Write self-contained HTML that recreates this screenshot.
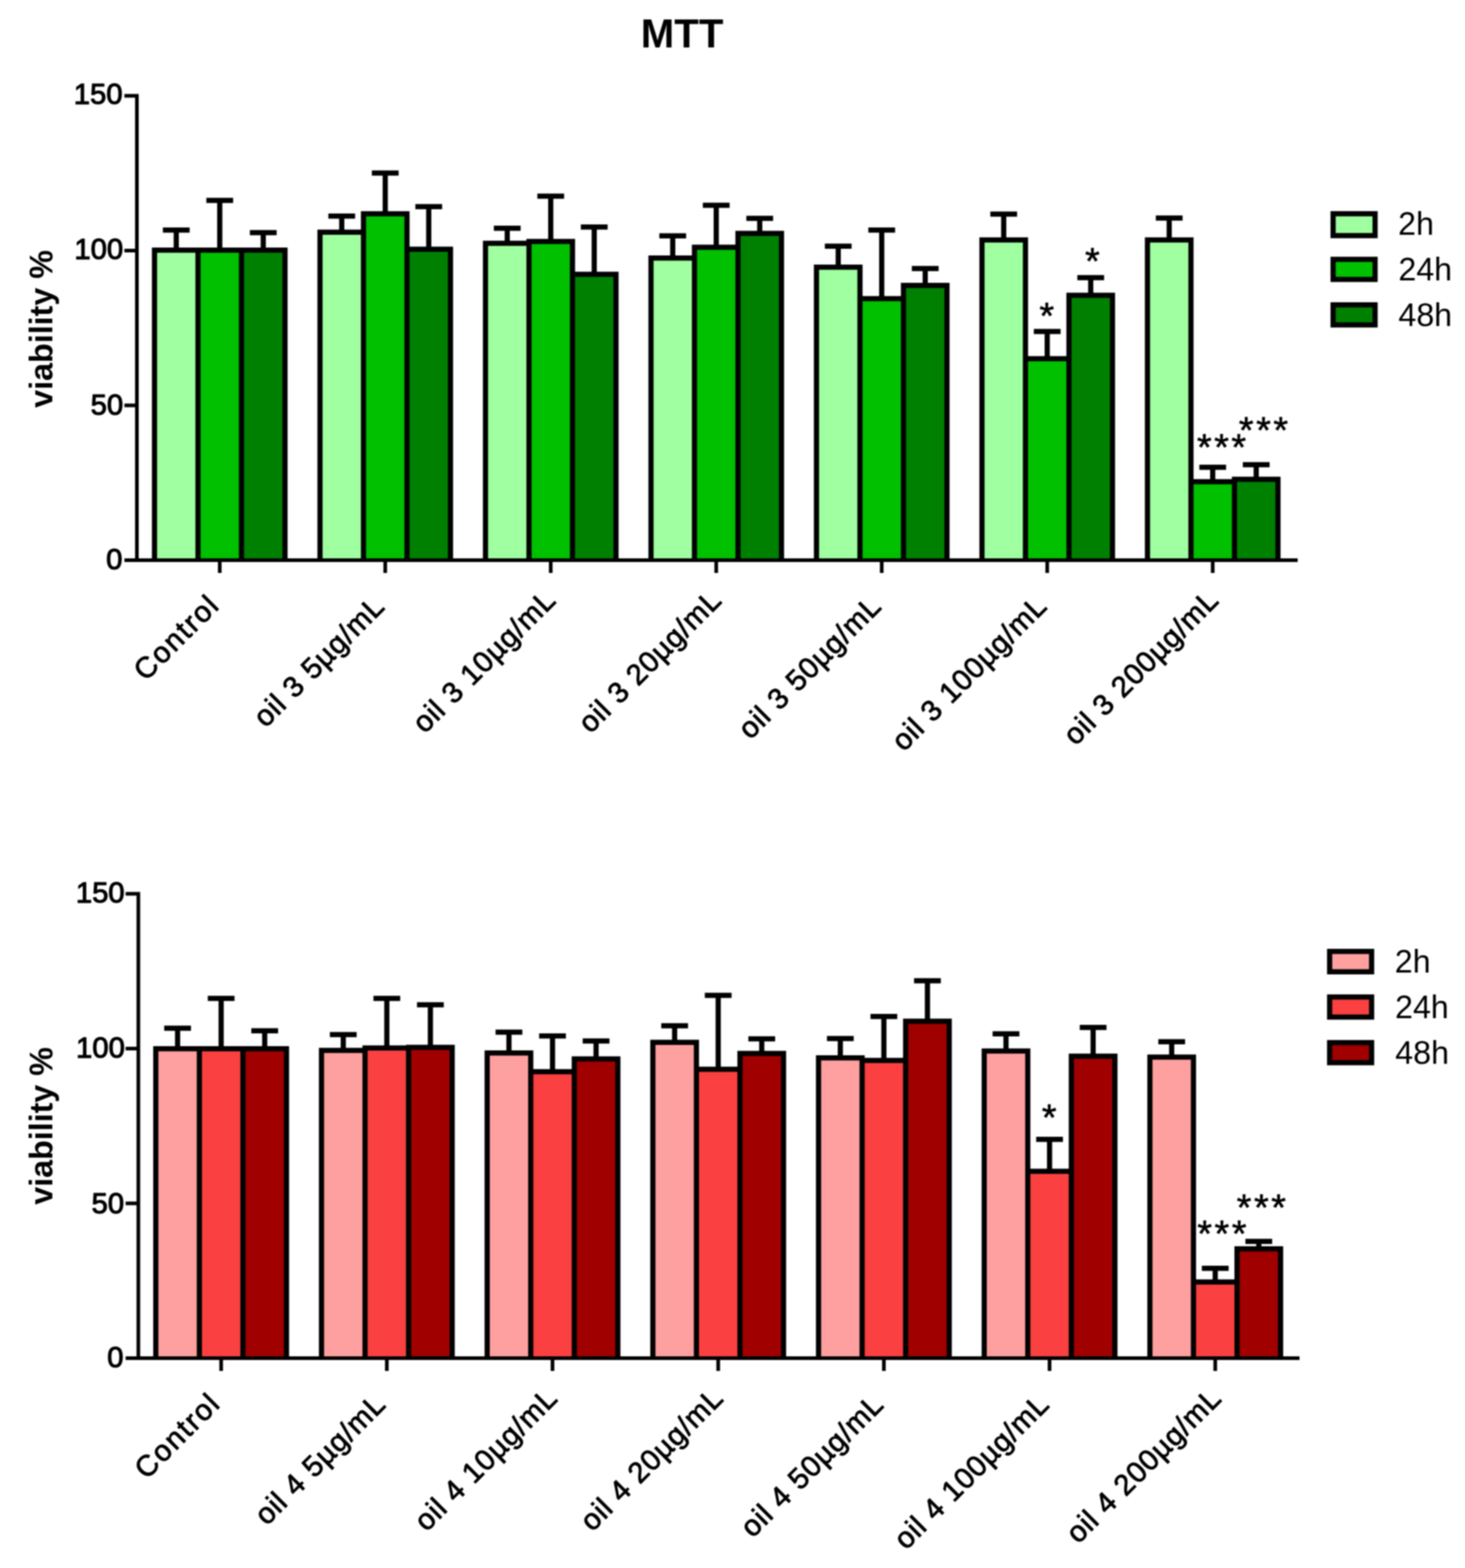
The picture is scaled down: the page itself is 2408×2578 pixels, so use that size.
<!DOCTYPE html>
<html><head><meta charset="utf-8"><title>MTT</title>
<style>html,body{margin:0;padding:0;background:#fff;}body{width:2408px;height:2578px;overflow:hidden;}svg{display:block;filter:blur(0.8px);}</style>
</head><body>
<svg width="2408" height="2578" viewBox="0 0 2408 2578" font-family="'Liberation Sans', Arial, sans-serif" fill="#000">
<rect width="2408" height="2578" fill="#fff"/>
<rect x="253.95" y="411.2" width="71.5" height="509.8" fill="#A0FFA0"/>
<rect x="325.45" y="411.2" width="71.5" height="509.8" fill="#00C000"/>
<rect x="396.95" y="411.2" width="71.5" height="509.8" fill="#008000"/>
<rect x="525.97" y="381.8" width="71.5" height="539.2" fill="#A0FFA0"/>
<rect x="597.47" y="351.6" width="71.5" height="569.4" fill="#00C000"/>
<rect x="668.97" y="409.8" width="71.5" height="511.2" fill="#008000"/>
<rect x="797.99" y="399.9" width="71.5" height="521.1" fill="#A0FFA0"/>
<rect x="869.49" y="397.1" width="71.5" height="523.9" fill="#00C000"/>
<rect x="940.99" y="450.9" width="71.5" height="470.1" fill="#008000"/>
<rect x="1070.01" y="424.3" width="71.5" height="496.7" fill="#A0FFA0"/>
<rect x="1141.51" y="406.6" width="71.5" height="514.4" fill="#00C000"/>
<rect x="1213.01" y="383.7" width="71.5" height="537.3" fill="#008000"/>
<rect x="1342.03" y="439.3" width="71.5" height="481.7" fill="#A0FFA0"/>
<rect x="1413.53" y="491.1" width="71.5" height="429.9" fill="#00C000"/>
<rect x="1485.03" y="469.3" width="71.5" height="451.7" fill="#008000"/>
<rect x="1614.05" y="394.5" width="71.5" height="526.5" fill="#A0FFA0"/>
<rect x="1685.55" y="589.7" width="71.5" height="331.3" fill="#00C000"/>
<rect x="1757.05" y="485.5" width="71.5" height="435.5" fill="#008000"/>
<rect x="1886.07" y="394.5" width="71.5" height="526.5" fill="#A0FFA0"/>
<rect x="1957.57" y="792.1" width="71.5" height="128.9" fill="#00C000"/>
<rect x="2029.07" y="787.9" width="71.5" height="133.1" fill="#008000"/>
<path d="M253.95 921V411.2H325.45V921M325.45 921V411.2H396.95V921M396.95 921V411.2H468.45V921M525.97 921V381.8H597.47V921M597.47 921V351.6H668.97V921M668.97 921V409.8H740.47V921M797.99 921V399.9H869.49V921M869.49 921V397.1H940.99V921M940.99 921V450.9H1012.49V921M1070.01 921V424.3H1141.51V921M1141.51 921V406.6H1213.01V921M1213.01 921V383.7H1284.51V921M1342.03 921V439.3H1413.53V921M1413.53 921V491.1H1485.03V921M1485.03 921V469.3H1556.53V921M1614.05 921V394.5H1685.55V921M1685.55 921V589.7H1757.05V921M1757.05 921V485.5H1828.55V921M1886.07 921V394.5H1957.57V921M1957.57 921V792.1H2029.07V921M2029.07 921V787.9H2100.57V921" stroke="#000" stroke-width="8.5" fill="none" stroke-linejoin="miter"/>
<path d="M289.7 411.2V378.2M267.7 378.2H311.7M361.2 411.2V329.4M339.2 329.4H383.2M432.7 411.2V382.4M410.7 382.4H454.7M561.72 381.8V355.2M539.72 355.2H583.72M633.22 351.6V284.4M611.22 284.4H655.22M704.72 409.8V339.8M682.72 339.8H726.72M833.74 399.9V375.2M811.74 375.2H855.74M905.24 397.1V322.6M883.24 322.6H927.24M976.74 450.9V373.3M954.74 373.3H998.74M1105.76 424.3V387.8M1083.76 387.8H1127.76M1177.26 406.6V337.4M1155.26 337.4H1199.26M1248.76 383.7V359M1226.76 359H1270.76M1377.78 439.3V404.8M1355.78 404.8H1399.78M1449.28 491.1V378.2M1427.28 378.2H1471.28M1520.78 469.3V441.5M1498.78 441.5H1542.78M1649.8 394.5V352M1627.8 352H1671.8M1721.3 589.7V545M1699.3 545H1743.3M1792.8 485.5V456.6M1770.8 456.6H1814.8M1921.82 394.5V358.6M1899.82 358.6H1943.82M1993.32 792.1V768.3M1971.32 768.3H2015.32M2064.82 787.9V764M2042.82 764H2086.82" stroke="#000" stroke-width="8.5" fill="none"/>
<path d="M225 154.5V921M204.5 921H2133M204.5 157.5H228M204.5 412H228M204.5 666.5H228M361.2 921V942M633.22 921V942M905.24 921V942M1177.26 921V942M1449.28 921V942M1721.3 921V942M1993.32 921V942" stroke="#000" stroke-width="6" fill="none"/>
<rect x="2191.2" y="351.4" width="69" height="36" fill="#A0FFA0" stroke="#000" stroke-width="8.5"/>
<rect x="2191.2" y="426.4" width="69" height="33" fill="#00C000" stroke="#000" stroke-width="8.5"/>
<rect x="2191.2" y="501.2" width="69" height="33" fill="#008000" stroke="#000" stroke-width="8.5"/>
<rect x="256.1" y="1724.3" width="71.6" height="508.7" fill="#FFA0A0"/>
<rect x="327.7" y="1724.3" width="71.6" height="508.7" fill="#FA4040"/>
<rect x="399.3" y="1724.3" width="71.6" height="508.7" fill="#A00000"/>
<rect x="528.43" y="1727.1" width="71.6" height="505.9" fill="#FFA0A0"/>
<rect x="600.03" y="1722.9" width="71.6" height="510.1" fill="#FA4040"/>
<rect x="671.63" y="1722.1" width="71.6" height="510.9" fill="#A00000"/>
<rect x="800.76" y="1731.3" width="71.6" height="501.7" fill="#FFA0A0"/>
<rect x="872.36" y="1762.1" width="71.6" height="470.9" fill="#FA4040"/>
<rect x="943.96" y="1741.1" width="71.6" height="491.9" fill="#A00000"/>
<rect x="1073.09" y="1713.7" width="71.6" height="519.3" fill="#FFA0A0"/>
<rect x="1144.69" y="1757.9" width="71.6" height="475.1" fill="#FA4040"/>
<rect x="1216.29" y="1731.9" width="71.6" height="501.1" fill="#A00000"/>
<rect x="1345.42" y="1739.3" width="71.6" height="493.7" fill="#FFA0A0"/>
<rect x="1417.02" y="1743.5" width="71.6" height="489.5" fill="#FA4040"/>
<rect x="1488.62" y="1679.1" width="71.6" height="553.9" fill="#A00000"/>
<rect x="1617.75" y="1727.9" width="71.6" height="505.1" fill="#FFA0A0"/>
<rect x="1689.35" y="1925.7" width="71.6" height="307.3" fill="#FA4040"/>
<rect x="1760.95" y="1736.6" width="71.6" height="496.4" fill="#A00000"/>
<rect x="1890.08" y="1738.1" width="71.6" height="494.9" fill="#FFA0A0"/>
<rect x="1961.68" y="2107.8" width="71.6" height="125.2" fill="#FA4040"/>
<rect x="2033.28" y="2053.2" width="71.6" height="179.8" fill="#A00000"/>
<path d="M256.1 2233V1724.3H327.7V2233M327.7 2233V1724.3H399.3V2233M399.3 2233V1724.3H470.9V2233M528.43 2233V1727.1H600.03V2233M600.03 2233V1722.9H671.63V2233M671.63 2233V1722.1H743.23V2233M800.76 2233V1731.3H872.36V2233M872.36 2233V1762.1H943.96V2233M943.96 2233V1741.1H1015.56V2233M1073.09 2233V1713.7H1144.69V2233M1144.69 2233V1757.9H1216.29V2233M1216.29 2233V1731.9H1287.89V2233M1345.42 2233V1739.3H1417.02V2233M1417.02 2233V1743.5H1488.62V2233M1488.62 2233V1679.1H1560.22V2233M1617.75 2233V1727.9H1689.35V2233M1689.35 2233V1925.7H1760.95V2233M1760.95 2233V1736.6H1832.55V2233M1890.08 2233V1738.1H1961.68V2233M1961.68 2233V2107.8H2033.28V2233M2033.28 2233V2053.2H2104.88V2233" stroke="#000" stroke-width="8.5" fill="none" stroke-linejoin="miter"/>
<path d="M291.9 1724.3V1690.6M269.9 1690.6H313.9M363.5 1724.3V1641.6M341.5 1641.6H385.5M435.1 1724.3V1694.8M413.1 1694.8H457.1M564.23 1727.1V1701M542.23 1701H586.23M635.83 1722.9V1641.6M613.83 1641.6H657.83M707.43 1722.1V1652M685.43 1652H729.43M836.56 1731.3V1697M814.56 1697H858.56M908.16 1762.1V1703.2M886.16 1703.2H930.16M979.76 1741.1V1711.6M957.76 1711.6H1001.76M1108.89 1713.7V1686.4M1086.89 1686.4H1130.89M1180.49 1757.9V1636.6M1158.49 1636.6H1202.49M1252.09 1731.9V1708M1230.09 1708H1274.09M1381.22 1739.3V1707.6M1359.22 1707.6H1403.22M1452.82 1743.5V1671.2M1430.82 1671.2H1474.82M1524.42 1679.1V1612.6M1502.42 1612.6H1546.42M1653.55 1727.9V1699.8M1631.55 1699.8H1675.55M1725.15 1925.7V1873.3M1703.15 1873.3H1747.15M1796.75 1736.6V1689.2M1774.75 1689.2H1818.75M1925.88 1738.1V1712.8M1903.88 1712.8H1947.88M1997.48 2107.8V2085.3M1975.48 2085.3H2019.48M2069.08 2053.2V2041M2047.08 2041H2091.08" stroke="#000" stroke-width="8.5" fill="none"/>
<path d="M227.4 1466.6V2233M206.5 2233H2136M206.5 1469.6H230.4M206.5 1724.07H230.4M206.5 1978.53H230.4M363.5 2233V2254M635.83 2233V2254M908.16 2233V2254M1180.49 2233V2254M1452.82 2233V2254M1725.15 2233V2254M1997.48 2233V2254" stroke="#000" stroke-width="6" fill="none"/>
<rect x="2185.5" y="1564.25" width="69" height="33.5" fill="#FFA0A0" stroke="#000" stroke-width="8.5"/>
<rect x="2185.5" y="1639.2" width="69" height="33" fill="#FA4040" stroke="#000" stroke-width="8.5"/>
<rect x="2185.5" y="1714.2" width="69" height="33" fill="#A00000" stroke="#000" stroke-width="8.5"/>
<text transform="translate(1053.35 77.65)" font-size="66" font-weight="bold">MTT</text>
<text transform="translate(121.25 171.25)" font-size="48" stroke="#000" stroke-width="1.6">150</text>
<text transform="translate(122.35 426.4)" font-size="48" stroke="#000" stroke-width="1.6">100</text>
<text transform="translate(149.1 681.85)" font-size="48" stroke="#000" stroke-width="1.6">50</text>
<text transform="translate(174.6 936.2)" font-size="48" stroke="#000" stroke-width="1.6">0</text>
<text transform="translate(124.7 1483.7)" font-size="48" stroke="#000" stroke-width="1.6">150</text>
<text transform="translate(125 1738.8)" font-size="48" stroke="#000" stroke-width="1.6">100</text>
<text transform="translate(150.45 1994.55)" font-size="48" stroke="#000" stroke-width="1.6">50</text>
<text transform="translate(176.25 2247.65)" font-size="48" stroke="#000" stroke-width="1.6">0</text>
<text transform="translate(86 670.4) rotate(-90)" font-size="53" font-weight="bold">viability %</text>
<text transform="translate(86 1980.8) rotate(-90)" font-size="53" font-weight="bold">viability %</text>
<text transform="translate(239.45 1121.25) rotate(-45)" font-size="48" letter-spacing="3" stroke="#000" stroke-width="1.3">Control</text>
<text transform="translate(436.6 1197.65) rotate(-45)" font-size="48" letter-spacing="1.5" stroke="#000" stroke-width="1.3">oil 3 5µg/mL</text>
<text transform="translate(698.1 1207.2) rotate(-45)" font-size="48" letter-spacing="1.5" stroke="#000" stroke-width="1.3">oil 3 10µg/mL</text>
<text transform="translate(970.6 1207.2) rotate(-45)" font-size="48" letter-spacing="1.5" stroke="#000" stroke-width="1.3">oil 3 20µg/mL</text>
<text transform="translate(1233.3 1217.25) rotate(-45)" font-size="48" letter-spacing="1.5" stroke="#000" stroke-width="1.3">oil 3 50µg/mL</text>
<text transform="translate(1485.4 1236.9) rotate(-45)" font-size="48" letter-spacing="1.5" stroke="#000" stroke-width="1.3">oil 3 100µg/mL</text>
<text transform="translate(1767.85 1227.3) rotate(-45)" font-size="48" letter-spacing="1.5" stroke="#000" stroke-width="1.3">oil 3 200µg/mL</text>
<text transform="translate(240.95 2433.75) rotate(-45)" font-size="48" letter-spacing="3" stroke="#000" stroke-width="1.3">Control</text>
<text transform="translate(438.4 2509.45) rotate(-45)" font-size="48" letter-spacing="1.5" stroke="#000" stroke-width="1.3">oil 4 5µg/mL</text>
<text transform="translate(701.05 2519.4) rotate(-45)" font-size="48" letter-spacing="1.5" stroke="#000" stroke-width="1.3">oil 4 10µg/mL</text>
<text transform="translate(973.55 2519.4) rotate(-45)" font-size="48" letter-spacing="1.5" stroke="#000" stroke-width="1.3">oil 4 20µg/mL</text>
<text transform="translate(1237 2529.8) rotate(-45)" font-size="48" letter-spacing="1.5" stroke="#000" stroke-width="1.3">oil 4 50µg/mL</text>
<text transform="translate(1489.15 2549.4) rotate(-45)" font-size="48" letter-spacing="1.5" stroke="#000" stroke-width="1.3">oil 4 100µg/mL</text>
<text transform="translate(1772.15 2539.45) rotate(-45)" font-size="48" letter-spacing="1.5" stroke="#000" stroke-width="1.3">oil 4 200µg/mL</text>
<text transform="translate(2298 385.7)" font-size="53">2h</text>
<text transform="translate(2298.4 460.7)" font-size="53">24h</text>
<text transform="translate(2298.4 535.7)" font-size="53">48h</text>
<text transform="translate(2292.5 1598.5)" font-size="53">2h</text>
<text transform="translate(2292.9 1673.5)" font-size="53">24h</text>
<text transform="translate(2293.2 1748.5)" font-size="53">48h</text>
<text transform="translate(1708.4 539.8)" font-size="62" letter-spacing="4.2" stroke="#000" stroke-width="0.9" stroke-linejoin="round">*</text>
<text transform="translate(1783.5 450)" font-size="62" letter-spacing="4.2" stroke="#000" stroke-width="0.9" stroke-linejoin="round">*</text>
<text transform="translate(1967.4 756.3)" font-size="62" letter-spacing="4.2" stroke="#000" stroke-width="0.9" stroke-linejoin="round">***</text>
<text transform="translate(2036.3 728)" font-size="62" letter-spacing="4.2" stroke="#000" stroke-width="0.9" stroke-linejoin="round">***</text>
<text transform="translate(1712.5 1858.3)" font-size="62" letter-spacing="4.2" stroke="#000" stroke-width="0.9" stroke-linejoin="round">*</text>
<text transform="translate(1968 2049.2)" font-size="62" letter-spacing="4.2" stroke="#000" stroke-width="0.9" stroke-linejoin="round">***</text>
<text transform="translate(2032.8 2005.7)" font-size="62" letter-spacing="4.2" stroke="#000" stroke-width="0.9" stroke-linejoin="round">***</text>
</svg>
</body></html>
